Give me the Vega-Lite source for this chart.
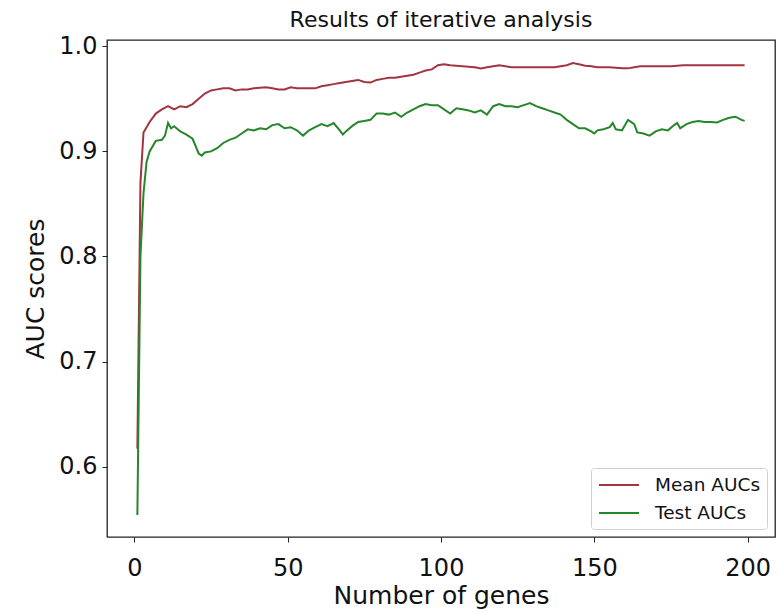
{
  "$schema": "https://vega.github.io/schema/vega-lite/v6.json",
  "width": 668,
  "height": 497,
  "autosize": {"type": "none"},
  "padding": {"left": 107, "top": 40, "right": 3, "bottom": 76},
  "background": "white",
  "config": {
    "font": "DejaVu Sans",
    "view": {"stroke": "#222", "strokeWidth": 1.3},
    "axis": {"grid": false, "domain": false, "tickColor": "#222", "tickSize": 5, "labelColor": "#111", "titleColor": "#111", "labelFont": "DejaVu Sans", "titleFont": "DejaVu Sans", "titleFontWeight": "normal"}
  },
  "title": {"text": "Results of iterative analysis", "fontSize": 22, "fontWeight": "normal", "font": "DejaVu Sans", "color": "#111", "offset": 2, "anchor": "middle"},
  "datasets": {
    "mean": [
      {"n":1,"auc":0.617},{"n":2,"auc":0.870},{"n":3,"auc":0.918},{"n":5,"auc":0.928},{"n":7,"auc":0.936},{"n":9,"auc":0.940},{"n":11,"auc":0.943},{"n":13,"auc":0.940},{"n":15,"auc":0.943},{"n":17,"auc":0.942},{"n":19,"auc":0.945},{"n":21,"auc":0.950},{"n":23,"auc":0.955},{"n":25,"auc":0.958},{"n":27,"auc":0.959},{"n":29,"auc":0.960},{"n":31,"auc":0.960},{"n":33,"auc":0.958},{"n":35,"auc":0.959},{"n":37,"auc":0.959},{"n":39,"auc":0.960},{"n":41,"auc":0.9605},{"n":43,"auc":0.961},{"n":45,"auc":0.960},{"n":47,"auc":0.959},{"n":49,"auc":0.959},{"n":51,"auc":0.961},{"n":53,"auc":0.960},{"n":55,"auc":0.960},{"n":57,"auc":0.960},{"n":59,"auc":0.960},{"n":61,"auc":0.962},{"n":63,"auc":0.963},{"n":65,"auc":0.964},{"n":67,"auc":0.965},{"n":69,"auc":0.966},{"n":71,"auc":0.967},{"n":73,"auc":0.968},{"n":75,"auc":0.966},{"n":77,"auc":0.9655},{"n":79,"auc":0.968},{"n":81,"auc":0.969},{"n":83,"auc":0.970},{"n":85,"auc":0.970},{"n":87,"auc":0.971},{"n":89,"auc":0.972},{"n":91,"auc":0.973},{"n":93,"auc":0.975},{"n":95,"auc":0.977},{"n":97,"auc":0.978},{"n":99,"auc":0.982},{"n":101,"auc":0.983},{"n":103,"auc":0.982},{"n":105,"auc":0.9815},{"n":107,"auc":0.981},{"n":109,"auc":0.9805},{"n":111,"auc":0.980},{"n":113,"auc":0.979},{"n":115,"auc":0.980},{"n":117,"auc":0.981},{"n":119,"auc":0.982},{"n":121,"auc":0.981},{"n":123,"auc":0.980},{"n":125,"auc":0.980},{"n":127,"auc":0.980},{"n":129,"auc":0.980},{"n":131,"auc":0.980},{"n":133,"auc":0.980},{"n":135,"auc":0.980},{"n":137,"auc":0.980},{"n":139,"auc":0.981},{"n":141,"auc":0.982},{"n":143,"auc":0.984},{"n":145,"auc":0.983},{"n":147,"auc":0.9815},{"n":149,"auc":0.981},{"n":151,"auc":0.980},{"n":153,"auc":0.980},{"n":155,"auc":0.980},{"n":157,"auc":0.9795},{"n":159,"auc":0.979},{"n":161,"auc":0.979},{"n":163,"auc":0.980},{"n":165,"auc":0.981},{"n":167,"auc":0.981},{"n":169,"auc":0.981},{"n":171,"auc":0.981},{"n":173,"auc":0.981},{"n":175,"auc":0.981},{"n":177,"auc":0.9815},{"n":179,"auc":0.982},{"n":181,"auc":0.982},{"n":183,"auc":0.982},{"n":185,"auc":0.982},{"n":187,"auc":0.982},{"n":189,"auc":0.982},{"n":191,"auc":0.982},{"n":193,"auc":0.982},{"n":195,"auc":0.982},{"n":197,"auc":0.982},{"n":199,"auc":0.982}
    ],
    "test": [
      {"n":1,"auc":0.554},{"n":2,"auc":0.800},{"n":3,"auc":0.860},{"n":4,"auc":0.890},{"n":5,"auc":0.900},{"n":7,"auc":0.910},{"n":9,"auc":0.911},{"n":10,"auc":0.915},{"n":11,"auc":0.927},{"n":12,"auc":0.922},{"n":13,"auc":0.924},{"n":15,"auc":0.919},{"n":17,"auc":0.916},{"n":19,"auc":0.912},{"n":21,"auc":0.898},{"n":22,"auc":0.896},{"n":23,"auc":0.899},{"n":25,"auc":0.900},{"n":27,"auc":0.903},{"n":29,"auc":0.908},{"n":31,"auc":0.911},{"n":33,"auc":0.913},{"n":35,"auc":0.917},{"n":37,"auc":0.921},{"n":39,"auc":0.920},{"n":41,"auc":0.922},{"n":43,"auc":0.921},{"n":45,"auc":0.925},{"n":47,"auc":0.926},{"n":49,"auc":0.922},{"n":51,"auc":0.923},{"n":53,"auc":0.920},{"n":55,"auc":0.915},{"n":57,"auc":0.920},{"n":59,"auc":0.923},{"n":61,"auc":0.926},{"n":63,"auc":0.924},{"n":65,"auc":0.927},{"n":67,"auc":0.920},{"n":68,"auc":0.916},{"n":69,"auc":0.919},{"n":71,"auc":0.924},{"n":73,"auc":0.928},{"n":75,"auc":0.929},{"n":77,"auc":0.930},{"n":79,"auc":0.936},{"n":81,"auc":0.936},{"n":83,"auc":0.935},{"n":85,"auc":0.937},{"n":87,"auc":0.933},{"n":89,"auc":0.937},{"n":91,"auc":0.940},{"n":93,"auc":0.943},{"n":95,"auc":0.945},{"n":97,"auc":0.944},{"n":99,"auc":0.944},{"n":101,"auc":0.940},{"n":103,"auc":0.936},{"n":105,"auc":0.941},{"n":107,"auc":0.940},{"n":109,"auc":0.939},{"n":111,"auc":0.937},{"n":113,"auc":0.939},{"n":115,"auc":0.935},{"n":117,"auc":0.943},{"n":119,"auc":0.945},{"n":121,"auc":0.943},{"n":123,"auc":0.943},{"n":125,"auc":0.942},{"n":127,"auc":0.944},{"n":129,"auc":0.946},{"n":131,"auc":0.943},{"n":133,"auc":0.941},{"n":135,"auc":0.939},{"n":137,"auc":0.937},{"n":139,"auc":0.935},{"n":141,"auc":0.930},{"n":143,"auc":0.926},{"n":145,"auc":0.922},{"n":147,"auc":0.922},{"n":149,"auc":0.919},{"n":150,"auc":0.917},{"n":151,"auc":0.920},{"n":153,"auc":0.921},{"n":155,"auc":0.923},{"n":156,"auc":0.927},{"n":157,"auc":0.921},{"n":159,"auc":0.920},{"n":161,"auc":0.930},{"n":163,"auc":0.926},{"n":164,"auc":0.918},{"n":166,"auc":0.917},{"n":168,"auc":0.915},{"n":170,"auc":0.919},{"n":172,"auc":0.921},{"n":174,"auc":0.920},{"n":176,"auc":0.925},{"n":177,"auc":0.927},{"n":178,"auc":0.922},{"n":180,"auc":0.926},{"n":182,"auc":0.928},{"n":184,"auc":0.929},{"n":186,"auc":0.928},{"n":188,"auc":0.928},{"n":190,"auc":0.9275},{"n":192,"auc":0.930},{"n":194,"auc":0.932},{"n":196,"auc":0.933},{"n":198,"auc":0.930},{"n":199,"auc":0.929}
    ]
  },
  "layer": [
    {
      "data": {"name": "mean"},
      "transform": [{"calculate": "'Mean AUCs'", "as": "series"}],
      "mark": {"type": "line", "strokeWidth": 2, "clip": true},
      "encoding": {
        "x": {"field": "n", "type": "quantitative", "scale": {"domain": [-8.9, 208.9], "nice": false, "zero": false}, "axis": {"values": [0, 50, 100, 150, 200], "title": "Number of genes", "labelFontSize": 24, "titleFontSize": 25, "labelPadding": 14, "titlePadding": 3}},
        "y": {"field": "auc", "type": "quantitative", "scale": {"domain": [0.533, 1.006], "nice": false, "zero": false}, "axis": {"values": [0.6, 0.7, 0.8, 0.9, 1.0], "format": ".1f", "title": "AUC scores", "labelFontSize": 24, "titleFontSize": 25, "labelPadding": 5, "titlePadding": 10}},
        "color": {"field": "series", "type": "nominal", "scale": {"domain": ["Mean AUCs", "Test AUCs"], "range": ["#a23440", "#25862a"]}, "legend": {"title": null, "orient": "bottom-right", "offset": 8, "symbolType": "M-2,0H2", "symbolSize": 400, "symbolStrokeWidth": 2, "symbolOffset": 11, "labelFontSize": 18.5, "labelColor": "#111", "labelFont": "DejaVu Sans", "strokeColor": "#d0d0d0", "fillColor": "white", "padding": 6, "cornerRadius": 3, "rowPadding": 7, "labelOffset": 25}}
      }
    },
    {
      "data": {"name": "test"},
      "transform": [{"calculate": "'Test AUCs'", "as": "series"}],
      "mark": {"type": "line", "strokeWidth": 2, "clip": true},
      "encoding": {
        "x": {"field": "n", "type": "quantitative"},
        "y": {"field": "auc", "type": "quantitative"},
        "color": {"field": "series", "type": "nominal"}
      }
    }
  ]
}
